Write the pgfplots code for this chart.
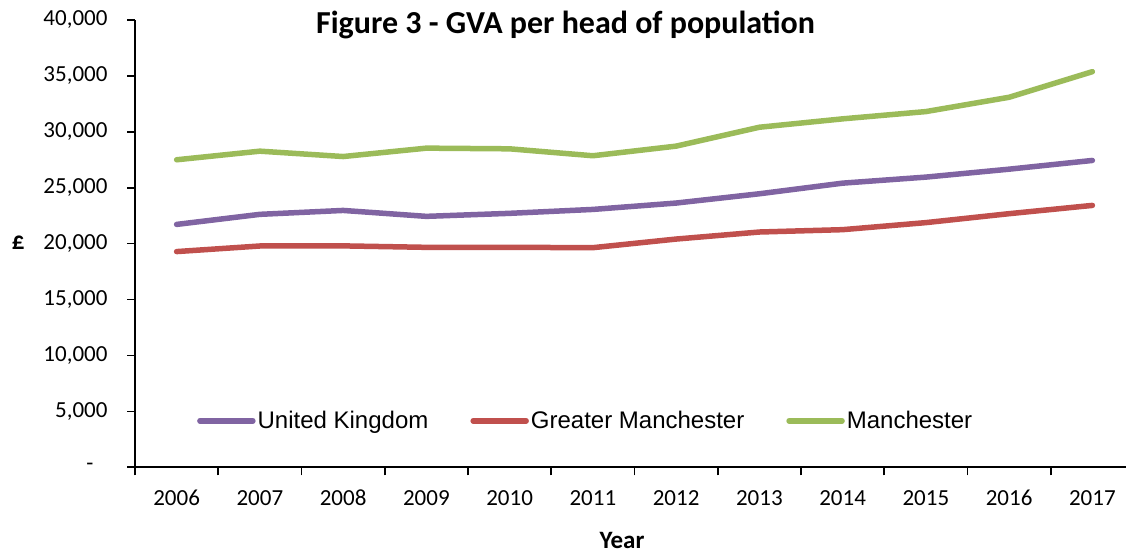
\documentclass[border=0pt]{standalone}
\usepackage{fontspec}
\setmainfont{Carlito}
\newfontfamily\arialf{Liberation Sans}
\usepackage{pgfplots}
\pgfplotsset{compat=1.18}
\definecolor{ukp}{HTML}{8064A2}
\definecolor{gmr}{HTML}{C0504D}
\definecolor{mang}{HTML}{9BBB59}
\begin{document}
\begin{tikzpicture}
\path[use as bounding box] (0pt,0pt) rectangle (1126pt,553pt);
\begin{axis}[
  at={(135pt,85.7pt)}, anchor=south west,
  scale only axis, width=999pt, height=447.3pt,
  xmin=-0.5, xmax=11.5, ymin=0, ymax=40000,
  axis lines*=left,
  axis line style={line width=1.6pt, black},
  every tick/.style={line width=1.6pt, black},
  xtick={0,...,11},
  xticklabels={2006,2007,2008,2009,2010,2011,2012,2013,2014,2015,2016,2017},
  major x tick style={draw=none},
  minor xtick={-0.5,0.5,...,11.5},
  minor tick length=8pt,
  tick align=outside,
  ytick={0,5000,...,40000},
  scaled y ticks=false,
  yticklabels={{-\makebox[14pt]{}},{5,000},{10,000},{15,000},{20,000},{25,000},{30,000},{35,000},{40,000}},
  major tick length=8pt,
  tick label style={font=\fontsize{23}{27}\selectfont},
  xticklabel style={text height=15pt, text depth=0pt, yshift=-12pt},
  yticklabel style={xshift=-16pt},
  title={\textbf{Figure 3 - GVA per head of population}},
  title style={font=\fontsize{32}{38}\selectfont, at={(rel axis cs:0.431,0.976)}, anchor=center},
  xlabel={\textbf{Year}},
  xlabel style={font=\fontsize{25}{30}\selectfont, at={(rel axis cs:0.4875,-0.1625)}, anchor=center},
  ylabel={\textbf{£}},
  ylabel style={font=\fontsize{25}{30}\selectfont, at={(rel axis cs:-0.117,0.5015)}, anchor=center, rotate=-90},
  legend style={at={(rel axis cs:0.059,0.104)}, anchor=west, draw=none, fill=none,
    font=\arialf\fontsize{24}{28}\selectfont, legend columns=3,
    /tikz/every even column/.append style={column sep=40pt}},
  legend image code/.code={\draw[#1, line width=5.5pt, line cap=round] (0pt,0pt) -- (53pt,0pt);},
  every axis plot/.append style={line width=5.5pt, line cap=round, line join=round},
]
\addplot[ukp] coordinates {(0,21720) (1,22620) (2,22970) (3,22440) (4,22710) (5,23060) (6,23630) (7,24460) (8,25410) (9,25950) (10,26660) (11,27440)};
\addlegendentry{United Kingdom}
\addplot[gmr] coordinates {(0,19290) (1,19790) (2,19800) (3,19670) (4,19670) (5,19640) (6,20410) (7,21040) (8,21250) (9,21880) (10,22680) (11,23420)};
\addlegendentry{Greater Manchester}
\addplot[mang] coordinates {(0,27500) (1,28270) (2,27790) (3,28540) (4,28480) (5,27860) (6,28720) (7,30410) (8,31160) (9,31810) (10,33090) (11,35380)};
\addlegendentry{Manchester}
\end{axis}
\end{tikzpicture}
\end{document}
